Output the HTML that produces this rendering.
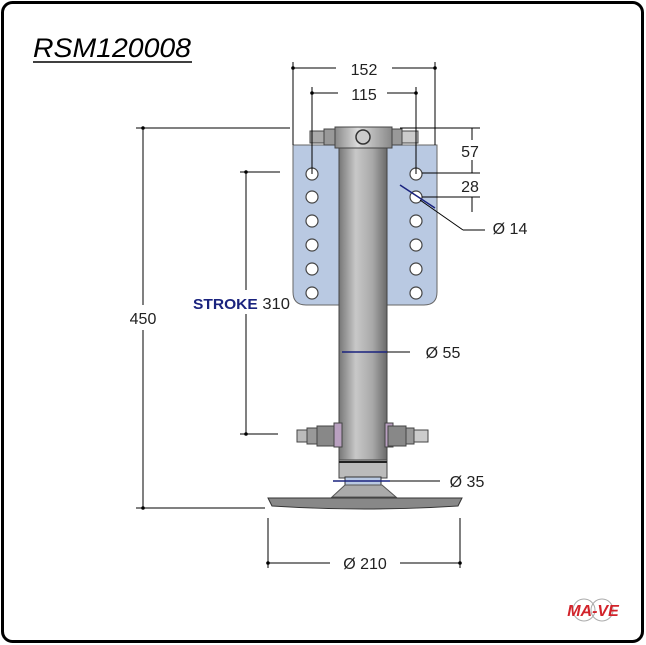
<!DOCTYPE html>
<html><head><style>
body{margin:0;background:#fff;}
svg{display:block;font-family:"Liberation Sans",sans-serif;}
</style></head><body>
<svg width="646" height="645" viewBox="0 0 646 645">
<defs>
<linearGradient id="tube" x1="0" x2="1"><stop offset="0" stop-color="#777"/><stop offset="0.35" stop-color="#c8c8c8"/><stop offset="0.7" stop-color="#a8a8a8"/><stop offset="1" stop-color="#6a6a6a"/></linearGradient>
<linearGradient id="head" x1="0" x2="1"><stop offset="0" stop-color="#888"/><stop offset="0.4" stop-color="#ddd"/><stop offset="1" stop-color="#888"/></linearGradient>
</defs>
<rect x="2.5" y="2.5" width="640" height="639" rx="10" fill="#fff" stroke="#000" stroke-width="3"/>
<text x="33" y="57" font-size="27" font-style="italic" fill="#000" textLength="158" lengthAdjust="spacingAndGlyphs">RSM120008</text>
<line x1="33" y1="62" x2="192" y2="62" stroke="#000" stroke-width="1.5"/>

<path d="M293 145 H437 V292 Q437 305 424 305 H306 Q293 305 293 292 Z" fill="#b9c9e2" stroke="#666" stroke-width="1"/>
<g fill="#fff" stroke="#444" stroke-width="1.2">
<circle cx="312" cy="174" r="6"/><circle cx="312" cy="197" r="6"/><circle cx="312" cy="221" r="6"/><circle cx="312" cy="245" r="6"/><circle cx="312" cy="269" r="6"/><circle cx="312" cy="293" r="6"/>
<circle cx="416" cy="174" r="6"/><circle cx="416" cy="197" r="6"/><circle cx="416" cy="221" r="6"/><circle cx="416" cy="245" r="6"/><circle cx="416" cy="269" r="6"/><circle cx="416" cy="293" r="6"/>
</g>
<rect x="339" y="146" width="48" height="316" fill="url(#tube)" stroke="#444"/>
<rect x="339" y="460" width="48" height="18" fill="#bbb" stroke="#444"/>
<line x1="339" y1="462" x2="387" y2="462" stroke="#222" stroke-width="2"/>
<rect x="335" y="127" width="57" height="21" fill="url(#head)" stroke="#444"/>
<circle cx="363" cy="137" r="7" fill="#ccc" stroke="#333" stroke-width="1.5"/>
<rect x="310" y="131" width="14" height="12" fill="#aaa" stroke="#444"/>
<rect x="324" y="129" width="11" height="16" fill="#999" stroke="#444"/>
<rect x="392" y="129" width="10" height="16" fill="#999" stroke="#444"/>
<rect x="402" y="131" width="16" height="12" fill="#ccc" stroke="#444"/>
<g stroke="#444" stroke-width="1">
<rect x="297" y="430" width="10" height="12" fill="#bbb"/><rect x="307" y="428" width="10" height="16" fill="#999"/><rect x="317" y="426" width="22" height="20" fill="#888"/>
<rect x="334" y="423" width="8" height="24" fill="#b9a0c0"/>
<rect x="385" y="423" width="8" height="24" fill="#b9a0c0"/>
<rect x="388" y="426" width="18" height="20" fill="#888"/><rect x="406" y="428" width="8" height="16" fill="#999"/><rect x="414" y="430" width="14" height="12" fill="#ccc"/>
</g>
<rect x="345" y="477" width="36" height="8" fill="#b9c9e2" stroke="#333"/>
<path d="M345 485 H382 L396 497 H332 Z" fill="#aaa" stroke="#555"/>
<path d="M268 498 H462 L458 506 Q365 512 272 506 Z" fill="#888" stroke="#333"/>

<g stroke="#000" stroke-width="1" fill="none">
<line x1="293" y1="62" x2="293" y2="145"/><line x1="435" y1="62" x2="435" y2="145"/>
<line x1="293" y1="68" x2="336" y2="68"/><line x1="392" y1="68" x2="435" y2="68"/>
<line x1="312" y1="87" x2="312" y2="174"/><line x1="416" y1="87" x2="416" y2="174"/>
<line x1="312" y1="93" x2="338" y2="93"/><line x1="387" y1="93" x2="416" y2="93"/>
<line x1="136" y1="128" x2="290" y2="128"/><line x1="136" y1="508" x2="265" y2="508"/>
<line x1="143" y1="128" x2="143" y2="305"/><line x1="143" y1="330" x2="143" y2="508"/>
<line x1="240" y1="172" x2="280" y2="172"/><line x1="240" y1="434" x2="278" y2="434"/>
<line x1="246" y1="172" x2="246" y2="290"/><line x1="246" y1="314" x2="246" y2="434"/>
<line x1="400" y1="128" x2="480" y2="128"/><line x1="422" y1="173" x2="480" y2="173"/><line x1="422" y1="197" x2="480" y2="197"/>
<line x1="472" y1="128" x2="472" y2="140"/><line x1="472" y1="160" x2="472" y2="173"/><line x1="472" y1="197" x2="472" y2="212"/>
<line x1="420" y1="200" x2="463" y2="230"/><line x1="463" y1="230" x2="485" y2="230"/>
<line x1="387" y1="352" x2="410" y2="352"/>
<line x1="388" y1="481" x2="440" y2="481"/>
<line x1="268" y1="518" x2="268" y2="568"/><line x1="460" y1="518" x2="460" y2="568"/>
<line x1="268" y1="563" x2="330" y2="563"/><line x1="400" y1="563" x2="460" y2="563"/>
</g>
<g stroke="#1a237e" stroke-width="1.5">
<line x1="342" y1="352" x2="387" y2="352"/>
<line x1="333" y1="481" x2="390" y2="481"/>
<line x1="400" y1="185" x2="435" y2="208"/>
</g>
<g fill="#000">
<circle cx="293" cy="68" r="1.8"/><circle cx="435" cy="68" r="1.8"/><circle cx="312" cy="93" r="1.8"/><circle cx="416" cy="93" r="1.8"/>
<circle cx="143" cy="128" r="1.8"/><circle cx="143" cy="508" r="1.8"/><circle cx="246" cy="172" r="1.8"/><circle cx="246" cy="434" r="1.8"/>
<circle cx="268" cy="563" r="1.8"/><circle cx="460" cy="563" r="1.8"/>
</g>
<g font-size="16" fill="#222" text-anchor="middle">
<text x="364" y="75">152</text>
<text x="364" y="100">115</text>
<text x="143" y="324">450</text>
<text x="470" y="157">57</text>
<text x="470" y="192">28</text>
<text x="510" y="234">Ø 14</text>
<text x="443" y="358">Ø 55</text>
<text x="467" y="487">Ø 35</text>
<text x="365" y="569">Ø 210</text>
</g>
<text x="193" y="309" font-size="16" fill="#1a237e" textLength="97" lengthAdjust="spacingAndGlyphs"><tspan font-weight="bold" font-size="15">STROKE</tspan><tspan fill="#222"> 310</tspan></text>
<g fill="none" stroke="#aaa" stroke-width="1"><circle cx="584" cy="610" r="11"/><circle cx="602" cy="610" r="11"/></g>
<text x="593" y="616" font-size="16" font-weight="bold" font-style="italic" fill="#d2232a" text-anchor="middle">MA-VE</text>
</svg>
</body></html>
